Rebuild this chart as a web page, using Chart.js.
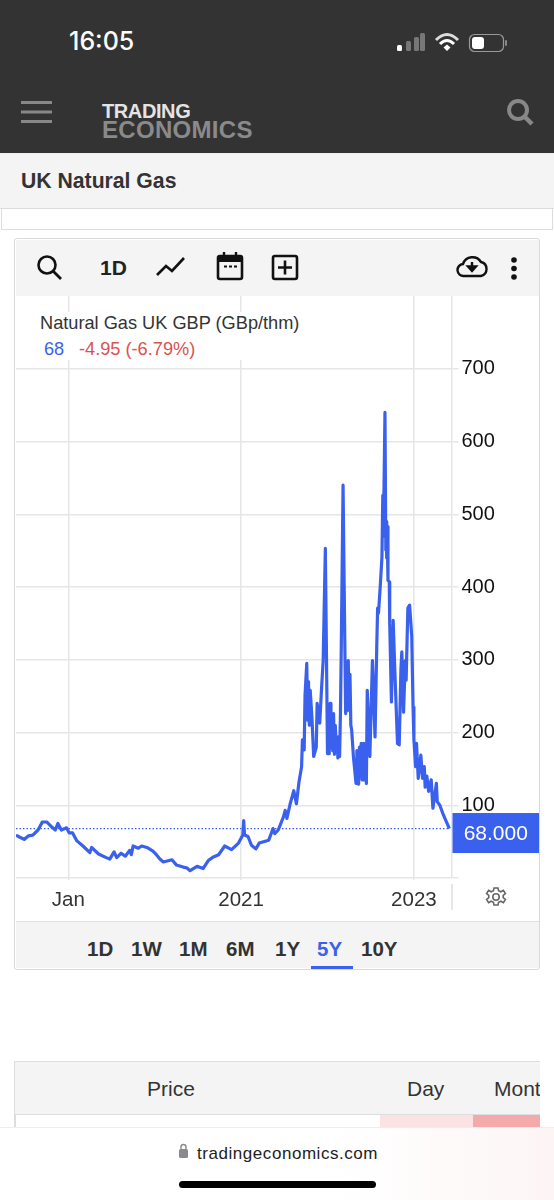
<!DOCTYPE html>
<html lang="en">
<head>
<meta charset="UTF-8">
<title>UK Natural Gas</title>
<style>
    html, body { margin: 0; padding: 0; }
    body { width: 554px; height: 1200px; position: relative; overflow: hidden; background: #fff; font-family: "Liberation Sans", Arial, sans-serif; color: #333; }
    .box { position: absolute; box-sizing: border-box; }
    .txt { position: absolute; white-space: nowrap; line-height: 1; }
    svg { position: absolute; overflow: visible; }
    #chart { position: absolute; left: 16px; top: 296px; }
    .range { font-weight: bold; font-size: 20.5px; top: 939px; color: #333; }
</style>
<script src="https://cdn.jsdelivr.net/npm/chart.js"></script>
</head>
<body>
    <!-- phone + site header -->
    <div class="box" style="left:0;top:0;width:554px;height:153px;background:#333"></div>
    <div class="txt" style="left:69px;top:29px;font-size:25px;font-weight:500;color:#fff;font-family:Inter,sans-serif">16:05</div>
    <svg style="left:0;top:0" width="554" height="153">
        <rect x="397" y="45" width="5" height="6" rx="1.5" fill="#fff"/>
        <rect x="406" y="41" width="5" height="10" rx="1.5" fill="#777"/>
        <rect x="413" y="37" width="5" height="14" rx="1.5" fill="#777" transform="translate(1 0)"/>
        <rect x="420" y="33" width="5" height="18" rx="1.5" fill="#777"/>
        <path d="M436 40 Q447 29 458 40" fill="none" stroke="#ddd" stroke-width="3"/>
        <path d="M440 44 Q447 37 454 44" fill="none" stroke="#fff" stroke-width="3"/>
        <path d="M443.5 47.5 L447 44.5 L450.5 47.5 L447 51 Z" fill="#fff"/>
        <rect x="469.5" y="34.5" width="34" height="17" rx="5" fill="none" stroke="#999" stroke-width="1.2"/>
        <rect x="472" y="37" width="12" height="12" rx="3" fill="#fff"/>
        <rect x="505" y="40" width="2" height="6" rx="1" fill="#888"/>
        <rect x="21" y="101" width="31" height="3" fill="#888"/>
        <rect x="21" y="110.5" width="31" height="3" fill="#888"/>
        <rect x="21" y="120" width="31" height="3" fill="#888"/>
        <circle cx="518" cy="110" r="9" fill="none" stroke="#888" stroke-width="4"/>
        <line x1="525" y1="117" x2="532" y2="124" stroke="#888" stroke-width="4.5"/>
    </svg>
    <div class="txt" style="left:102px;top:101px;font-size:20px;font-weight:bold;color:#e4e4e4;letter-spacing:-0.4px">TRADING</div>
    <div class="txt" style="left:102px;top:118px;font-size:24px;font-weight:bold;color:#8a8a8a;letter-spacing:0.3px">ECONOMICS</div>

    <div class="box" style="left:0;top:153px;width:554px;height:56px;background:#f4f4f4;border-top:1px solid #eee;border-bottom:1px solid #ddd"></div>
    <div class="txt" style="left:21px;top:170px;font-size:21.2px;font-weight:bold">UK Natural Gas</div>
    <div class="box" style="left:1px;top:209px;width:552px;height:21px;border:1px solid #ddd;border-top:0;background:#fff"></div>

    <!-- chart card -->
    <div class="box" style="left:14px;top:238px;width:526px;height:732px;border:1.5px solid #d9d9d9;border-radius:3px;background:#fff"></div>
    <div class="box" style="left:16px;top:240px;width:523px;height:56px;background:#f4f4f4"></div>
    <div class="box" style="left:16px;top:921px;width:523px;height:47px;background:#f4f4f4;border-top:1px solid #e2e2e2"></div>
    <svg style="left:0;top:0" width="554" height="300">
        <circle cx="47" cy="265" r="8.5" fill="none" stroke="#111" stroke-width="2.6"/>
        <line x1="53" y1="271" x2="61" y2="279" stroke="#111" stroke-width="2.8"/>
        <polyline points="157,275 166,266 172,271 184,258" fill="none" stroke="#111" stroke-width="2.6"/>
        <rect x="218" y="256" width="24" height="23" rx="2" fill="none" stroke="#111" stroke-width="2.6"/>
        <rect x="218" y="256" width="24" height="6" fill="#111"/>
        <line x1="224" y1="252" x2="224" y2="256" stroke="#111" stroke-width="2.4"/>
        <line x1="236" y1="252" x2="236" y2="256" stroke="#111" stroke-width="2.4"/>
        <path d="M224 266.5 h3 M229 266.5 h3 M234 266.5 h3" stroke="#111" stroke-width="2"/>
        <rect x="273" y="256" width="24" height="23" rx="2" fill="none" stroke="#111" stroke-width="2.6"/>
        <path d="M285 260.5 v14 M278 267.5 h14" stroke="#111" stroke-width="2.6"/>
        <path d="M464 276 a6 6 0 0 1 -1 -12 a10 10 0 0 1 18 -2 a7.2 7.2 0 0 1 0 14 Z" fill="none" stroke="#111" stroke-width="2.4"/>
        <path d="M472 262 v7 M468 266.5 L472 271 L476 266.5 Z" stroke="#111" stroke-width="2.4" fill="#111"/>
        <circle cx="514" cy="260" r="2.8" fill="#111"/>
        <circle cx="514" cy="268.5" r="2.8" fill="#111"/>
        <circle cx="514" cy="277" r="2.8" fill="#111"/>
    </svg>
    <div class="txt" style="left:100px;top:257px;font-size:21px;font-weight:bold;color:#222">1D</div>

    <canvas id="chart" width="523" height="625"></canvas>

    <div class="box" style="left:38px;top:312px;width:264px;height:48px;background:#fff"></div>
    <div class="txt" style="left:40px;top:314px;font-size:18.2px;color:#333">Natural Gas UK GBP (GBp/thm)</div>
    <div class="txt" style="left:44px;top:340px;font-size:18.2px;color:#3b62ee">68</div>
    <div class="txt" style="left:79px;top:340px;font-size:18.2px;color:#d9534f">-4.95 (-6.79%)</div>

    <div class="box" style="left:451px;top:884px;width:1.5px;height:26px;background:#e6e6e6"></div>
    <svg style="left:486px;top:887px" width="20" height="20" viewBox="0 0 20 20">
        <path d="M8 1 h4 l.6 2.8 2.3 1 2.5-1.5 2 3.2-2.2 1.8 v2.4 l2.2 1.8-2 3.2-2.5-1.5-2.3 1-.6 2.8 h-4 l-.6-2.8-2.3-1-2.5 1.5-2-3.2 2.2-1.8 v-2.4 l-2.2-1.8 2-3.2 2.5 1.5 2.3-1 Z" fill="none" stroke="#666" stroke-width="1.6"/>
        <circle cx="10" cy="10" r="3.2" fill="none" stroke="#666" stroke-width="1.6"/>
    </svg>

    <div class="txt range" style="left:87px">1D</div>
    <div class="txt range" style="left:131px">1W</div>
    <div class="txt range" style="left:179px">1M</div>
    <div class="txt range" style="left:226px">6M</div>
    <div class="txt range" style="left:275px">1Y</div>
    <div class="txt range" style="left:317px;color:#3b62ee">5Y</div>
    <div class="txt range" style="left:361px">10Y</div>
    <div class="box" style="left:311px;top:966px;width:42px;height:3px;background:#3b62ee"></div>

    <!-- table stub -->
    <div class="box" style="left:14px;top:1061px;width:526px;height:54px;background:#f4f4f4;border-top:1.5px solid #ddd;border-bottom:1.5px solid #ddd;border-left:1.5px solid #ddd;overflow:hidden">
        <div class="txt" style="left:132px;top:16px;font-size:21px">Price</div>
        <div class="txt" style="left:392px;top:16px;font-size:21px">Day</div>
        <div class="txt" style="left:479px;top:16px;font-size:21px">Month</div>
    </div>
    <div class="box" style="left:14px;top:1115px;width:1.5px;height:13px;background:#ddd"></div>
    <div class="box" style="left:380px;top:1115px;width:93px;height:13px;background:#fbe3e3"></div>
    <div class="box" style="left:473px;top:1115px;width:67px;height:13px;background:#f4aaaa"></div>

    <!-- browser bar -->
    <div class="box" style="left:0;top:1127px;width:554px;height:73px;background:linear-gradient(90deg,#fff 0%,#fff 60%,#fdf5f5 100%);border-top:1px solid #eee"></div>
    <svg style="left:0;top:1140px" width="554" height="30">
        <rect x="179" y="9" width="9" height="9" rx="1.5" fill="#8a8a8e"/>
        <path d="M181 9 v-2 a2.5 2.5 0 0 1 5 0 v2" fill="none" stroke="#8a8a8e" stroke-width="1.4"/>
    </svg>
    <div class="txt" style="left:197px;top:1145px;font-size:17px;letter-spacing:0.55px;color:#222">tradingeconomics.com</div>
    <div class="box" style="left:179px;top:1181px;width:197px;height:7px;border-radius:4px;background:#000"></div>

<script>
// years as decimals, price (GBp/thm)
const years = [
    2018.395, 2018.44, 2018.49, 2018.54, 2018.59, 2018.65, 2018.70, 2018.75, 2018.81, 2018.85,
    2018.88, 2018.92, 2018.98, 2019.01, 2019.05, 2019.10, 2019.17, 2019.25, 2019.27, 2019.35,
    2019.44, 2019.48, 2019.53, 2019.56, 2019.61, 2019.66, 2019.71, 2019.73, 2019.75, 2019.81,
    2019.85, 2019.91, 2019.98, 2020.02, 2020.06, 2020.10, 2020.20, 2020.25, 2020.33, 2020.37,
    2020.41, 2020.49, 2020.56, 2020.62, 2020.68, 2020.74, 2020.81, 2020.89, 2020.97, 2021.02,
    2021.03, 2021.04, 2021.08, 2021.12, 2021.17, 2021.21, 2021.32, 2021.37, 2021.39, 2021.43,
    2021.49, 2021.51, 2021.53, 2021.57, 2021.61, 2021.64, 2021.67, 2021.70, 2021.71, 2021.73,
    2021.74, 2021.76, 2021.77, 2021.78, 2021.79, 2021.80, 2021.82, 2021.84, 2021.87, 2021.88,
    2021.91, 2021.93, 2021.95, 2021.975, 2022.00, 2022.01, 2022.02, 2022.03, 2022.04, 2022.05,
    2022.06, 2022.07, 2022.08, 2022.09, 2022.10, 2022.11, 2022.12, 2022.13, 2022.14, 2022.15,
    2022.16, 2022.18, 2022.20, 2022.21, 2022.22, 2022.23, 2022.24, 2022.25, 2022.26, 2022.27,
    2022.28, 2022.30, 2022.33, 2022.34, 2022.345, 2022.35, 2022.36, 2022.37, 2022.38, 2022.39,
    2022.40, 2022.41, 2022.415, 2022.42, 2022.43, 2022.44, 2022.45, 2022.46, 2022.49, 2022.52,
    2022.55, 2022.57, 2022.58, 2022.59, 2022.61, 2022.63, 2022.64, 2022.645, 2022.65, 2022.665,
    2022.675, 2022.68, 2022.685, 2022.69, 2022.70, 2022.715, 2022.72, 2022.74, 2022.76, 2022.78,
    2022.81, 2022.83, 2022.85, 2022.86, 2022.88, 2022.90, 2022.91, 2022.93, 2022.95, 2022.975,
    2022.99, 2023.00, 2023.02, 2023.03, 2023.05, 2023.08, 2023.10, 2023.12, 2023.13, 2023.15,
    2023.17, 2023.20, 2023.22, 2023.26, 2023.27, 2023.30, 2023.34, 2023.41
];
const prices = [
    59, 56, 53, 58, 59, 66, 77, 77, 70, 66,
    75, 66, 69, 62, 62, 51, 44, 35, 42, 33,
    28, 26, 36, 28, 34, 30, 38, 32, 44, 41,
    44, 42, 37, 32, 26, 22, 25, 18, 15, 14,
    10, 16, 13, 24, 29, 32, 44, 39, 48, 59,
    79, 59, 57, 45, 40, 48, 52, 68, 61, 66,
    84, 93, 82, 103, 120, 102, 132, 153, 190, 176,
    251, 295, 217, 270, 210, 258, 220, 167, 180, 240,
    213, 258, 299, 453, 171, 235, 171, 240, 180, 225,
    175, 226, 170, 210, 180, 194, 165, 190, 167, 227,
    323, 540, 327, 226, 290, 230, 299, 240, 280, 210,
    203, 167, 130, 175, 135, 167, 129, 180, 140, 185,
    135, 180, 150, 185, 135, 175, 130, 258, 167, 299,
    194, 318, 371, 364, 400, 441, 526, 470, 500, 640,
    451, 490, 440, 483, 409, 407, 350, 242, 354, 282,
    185, 183, 288, 311, 228, 299, 272, 371, 375, 332,
    235, 190, 153, 185, 137, 169, 137, 153, 125, 140,
    119, 135, 96, 130, 105, 100, 87, 68
];
const lastPrice = 68;
const lastLabel = '68.000';
const xTicks = [2019, 2021, 2023];
const xTickLabels = ['Jan', '2021', '2023'];
const xMin = 2018.395;
const xMax = 2023.435;
const yMax = 800;

const blue = '#3a60ee';
const gridColor = '#e6e6e6';

// blue box with last value on the axis
const lastValueBox = {
    id: 'lastValueBox',
    afterDraw(chart) {
        const ctx = chart.ctx;
        const left = chart.chartArea.right + 1;
        const cy = chart.scales.y.getPixelForValue(lastPrice) + 4.5;
        ctx.save();
        ctx.fillStyle = blue;
        ctx.fillRect(left, cy - 20, chart.width - left, 40);
        ctx.fillStyle = '#fff';
        ctx.font = '21px "Liberation Sans"';
        ctx.textAlign = 'center';
        ctx.textBaseline = 'middle';
        ctx.fillText(lastLabel, (left + chart.width) / 2, cy + 1);
        ctx.restore();
    }
};

new Chart(document.getElementById('chart'), {
    type: 'line',
    data: {
        datasets: [
            {
                data: years.map((x, i) => ({ x: x, y: prices[i] })),
                borderColor: blue,
                borderWidth: 3.2,
                borderJoinStyle: 'round',
                pointRadius: 0,
                tension: 0
            },
            {
                data: [{ x: xMin, y: lastPrice }, { x: years[years.length - 1], y: lastPrice }],
                borderColor: blue,
                borderWidth: 1.2,
                borderDash: [1.5, 2],
                pointRadius: 0
            }
        ]
    },
    options: {
        responsive: false,
        animation: false,
        devicePixelRatio: 1,
        layout: { padding: 0 },
        plugins: { legend: { display: false }, tooltip: { enabled: false } },
        scales: {
            x: {
                type: 'linear',
                min: xMin,
                max: xMax,
                afterFit(scale) { scale.height = 43; scale.paddingLeft = 0; scale.paddingRight = 0; },
                afterBuildTicks(scale) { scale.ticks = xTicks.map(v => ({ value: v })); },
                grid: { color: gridColor, lineWidth: 1.5, tickLength: 2 },
                border: { display: false },
                ticks: {
                    autoSkip: false,
                    maxRotation: 0,
                    padding: 8,
                    color: '#333',
                    font: { family: 'Liberation Sans', size: 20.5 },
                    callback: v => xTickLabels[xTicks.indexOf(v)]
                }
            },
            y: {
                position: 'right',
                min: 0,
                max: yMax,
                afterFit(scale) { scale.width = 87.5; scale.paddingTop = 0; scale.paddingBottom = 0; },
                grid: {
                    color: c => c.tick.value === yMax ? 'transparent' : gridColor,
                    lineWidth: 1.5,
                    tickLength: 7
                },
                border: { color: gridColor, width: 1.5 },
                ticks: {
                    stepSize: 100,
                    padding: 3,
                    color: '#111',
                    font: { family: 'Liberation Sans', size: 20 },
                    callback: v => (v === 0 || v === yMax) ? '' : v
                }
            }
        }
    },
    plugins: [lastValueBox]
});
</script>
</body>
</html>
